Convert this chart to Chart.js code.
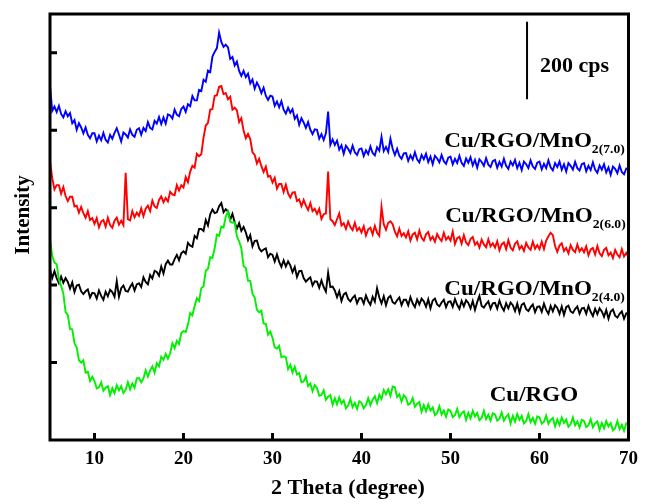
<!DOCTYPE html>
<html>
<head>
<meta charset="utf-8">
<script src="https://cdn.jsdelivr.net/npm/chart.js@4.4.1/dist/chart.umd.min.js"></script>
<style>
  html, body { margin: 0; padding: 0; background: #fff; }
  #wrap { width: 646px; height: 504px; }
</style>
</head>
<body>
<div id="wrap"><canvas id="xrd" width="646" height="504"></canvas></div>
<script>
// 2 theta grid: first angle and step of the scan (degree)
const thetaStart = 5;
const thetaStep = 0.25;

// intensities (cps, stacked), one value per step
const cuRgo = [
  520,475,458,454,414,398,378,330,323,287,286,250,239,206,200,206,174,176,152,163,
  152,133,136,149,127,135,139,116,134,121,141,128,139,121,130,149,131,146,135,159,
  160,149,159,180,164,179,190,174,198,190,215,207,222,210,224,250,237,256,248,276,
  281,279,298,328,322,346,366,359,392,397,437,442,472,470,495,530,527,551,549,577,
  590,564,561,562,526,513,495,449,444,411,411,378,368,336,330,334,301,300,272,280,
  264,239,236,243,214,216,214,183,194,174,189,169,173,149,151,164,139,146,126,142,
  134,114,116,128,104,112,116,91,108,92,110,94,102,82,89,106,85,96,80,100,
  96,82,90,108,90,104,113,95,117,106,129,118,131,114,138,136,111,118,99,116,
  109,91,95,108,86,94,98,73,90,74,92,76,84,64,70,87,66,76,60,79,
  75,59,64,80,59,69,74,52,70,56,75,61,70,51,57,75,54,65,50,69,
  66,50,55,71,50,60,66,43,62,47,67,52,62,43,49,67,46,57,42,61,
  58,42,47,63,42,52,57,35,53,39,58,44,53,34,41,58,38,48,33,52,
  49,33,38,54,33,43,48,26,44,30,49,35,44,25,31,49,28,39,24,43,
  40
];
const mno40 = [
  440,418,436,418,405,422,406,418,408,391,407,382,399,401,384,377,384,389,368,380,
  379,365,386,372,362,383,371,388,382,370,410,370,392,399,385,383,395,404,386,402,
  405,395,420,408,402,426,417,437,434,424,448,430,454,463,453,453,467,478,464,482,
  487,481,509,502,499,527,521,545,545,540,568,554,583,595,586,588,604,612,588,596,
  590,569,584,562,546,560,540,550,536,516,529,500,514,515,495,487,492,495,472,481,
  478,461,479,460,447,464,448,461,451,433,447,421,436,437,418,409,415,420,399,410,
  409,393,412,395,383,432,395,396,386,369,384,359,376,380,364,358,367,373,353,366,
  366,352,373,359,349,370,357,392,368,353,371,348,367,372,356,352,361,368,348,362,
  362,348,369,353,343,363,350,365,358,344,363,340,360,365,350,345,355,362,343,357,
  358,344,364,349,339,359,345,361,354,340,359,336,356,372,346,342,351,358,339,353,
  354,339,360,344,334,353,340,355,348,333,352,329,349,353,338,333,343,350,330,344,
  345,331,352,336,326,346,332,348,341,326,345,323,343,347,332,328,338,345,326,340,
  341,326,346,331,320,339,325,340,332,318,336,313,332,337,321,316,326,332,313,327,
  328
];
const mno60 = [
  720,676,647,658,658,636,653,630,617,628,628,603,605,587,602,586,574,591,568,573,
  558,573,549,564,568,551,574,555,548,566,574,556,566,555,690,570,567,591,575,587,
  579,598,578,597,605,591,618,603,599,620,629,614,625,616,641,634,632,658,644,658,
  652,679,666,693,708,703,739,733,738,781,812,819,853,854,889,890,912,914,893,896,
  880,886,853,858,851,821,831,799,779,790,777,743,736,714,726,707,692,706,680,682,
  665,677,649,661,661,640,659,637,626,639,640,617,621,604,620,605,594,612,591,597,
  584,597,571,583,585,693,570,565,555,570,585,554,560,545,564,550,542,561,541,548,
  536,552,528,544,548,531,553,535,527,602,557,543,561,565,557,538,526,546,527,534,
  523,539,515,531,535,518,541,522,515,531,537,517,525,512,532,521,514,535,517,525,
  515,538,506,521,525,507,529,510,503,519,524,504,511,497,517,505,498,518,500,508,
  497,513,490,505,510,493,516,497,490,507,513,493,501,488,509,497,491,512,494,503,
  493,512,493,515,526,535,529,501,486,502,508,488,496,482,503,491,485,505,487,495,
  485,500,477,492,496,479,501,482,475,491,496,477,484,470,491,479,472,493,474,483,
  472
];
const mno70 = [
  915,850,861,847,863,842,833,849,836,844,818,826,801,818,807,792,807,788,779,792,
  792,771,786,774,793,775,768,788,778,793,805,789,771,794,789,781,802,788,783,801,
  805,788,806,798,821,806,802,824,817,834,816,833,817,841,838,830,853,840,836,855,
  861,847,867,862,888,877,877,904,901,930,925,954,950,990,1002,1012,1052,1028,1015,1021,
  1014,984,989,967,977,953,940,953,937,946,921,931,907,923,912,896,910,889,878,889,
  887,863,874,859,875,853,843,858,845,854,829,838,814,831,820,806,821,801,790,802,
  801,778,790,775,792,848,762,776,762,773,750,761,739,760,752,741,760,743,736,751,
  753,733,748,738,758,741,735,756,747,783,746,757,744,778,752,736,752,734,726,740,
  741,721,735,724,743,725,717,736,725,739,718,732,712,734,727,717,736,720,713,729,
  732,712,726,715,734,716,708,727,716,730,709,723,703,725,718,708,728,711,705,720,
  723,703,718,706,726,708,700,719,709,723,702,716,697,719,712,702,722,706,700,716,
  719,699,713,702,722,704,696,715,705,719,698,712,693,715,708,698,718,702,696,712,
  715,694,708,697,717,698,690,709,698,712,691,704,685,706,700,689,709,692,686,701,
  698
];

// axis ticks
const xTickValues = [10, 20, 30, 40, 50, 60, 70];
const yTickValues = [200, 400, 600, 800, 1000];

// 200 cps scale bar (angle, from, to)
const barTheta = [58.6, 58.6];
const barCps = [880, 1080];

// curve labels: main text, subscript, anchor (angle, cps)
const labelMain = ["Cu/RGO/MnO", "Cu/RGO/MnO", "Cu/RGO/MnO", "Cu/RGO"];
const labelSub = ["2(7.0)", "2(6.0)", "2(4.0)", ""];
const labelTheta = [49.3, 49.4, 49.3, 54.4];
const labelCps = [757, 563, 374, 101];

const SERIF = '"Liberation Serif", "Times New Roman", serif';

function toPoints(vals) {
  return vals.map((v, i) => ({ x: thetaStart + i * thetaStep, y: v }));
}

function curve(vals, color) {
  return {
    data: toPoints(vals),
    borderColor: color,
    borderWidth: 1.9,
    pointRadius: 0,
    tension: 0,
    fill: false,
  };
}

function stretchText(ctx, txt, x, y, sx) {
  ctx.save();
  ctx.translate(x, y);
  ctx.scale(sx, 1);
  ctx.fillText(txt, 0, 0);
  ctx.restore();
  return ctx.measureText(txt).width * sx;
}

const decor = {
  id: "decor",
  afterDatasetsDraw(chart) {
    const { ctx, chartArea: a, scales } = chart;
    const x = scales.x;
    const y = scales.y;
    ctx.save();
    ctx.strokeStyle = "#000";
    ctx.fillStyle = "#000";

    // frame
    ctx.lineWidth = 3;
    ctx.strokeRect(a.left, a.top, a.right - a.left, a.bottom - a.top);

    // inner ticks
    ctx.beginPath();
    xTickValues.forEach((v) => {
      const px = x.getPixelForValue(v);
      ctx.moveTo(px, a.bottom);
      ctx.lineTo(px, a.bottom - 7);
    });
    yTickValues.forEach((v) => {
      const py = y.getPixelForValue(v);
      ctx.moveTo(a.left, py);
      ctx.lineTo(a.left + 7, py);
    });
    ctx.stroke();

    // curve labels
    ctx.textBaseline = "alphabetic";
    ctx.textAlign = "left";
    for (let i = 0; i < labelMain.length; i++) {
      const lx = x.getPixelForValue(labelTheta[i]);
      const ly = y.getPixelForValue(labelCps[i]);
      ctx.font = "bold 21px " + SERIF;
      const w = stretchText(ctx, labelMain[i], lx, ly, 1.1);
      if (labelSub[i]) {
        ctx.font = "bold 13px " + SERIF;
        stretchText(ctx, labelSub[i], lx + w, ly + 6, 1.05);
      }
    }

    // scale bar text
    ctx.font = "bold 20px " + SERIF;
    stretchText(ctx, "200 cps", x.getPixelForValue(60.06), y.getPixelForValue(950), 1.1);

    // axis titles
    ctx.font = "bold 21px " + SERIF;
    ctx.textAlign = "center";
    stretchText(ctx, "2 Theta (degree)", 348, 494, 1.05);

    ctx.save();
    ctx.translate(29, 215);
    ctx.rotate(-Math.PI / 2);
    ctx.fillText("Intensity", 0, 0);
    ctx.restore();

    ctx.restore();
  },
};

new Chart(document.getElementById("xrd").getContext("2d"), {
  type: "line",
  data: {
    datasets: [
      curve(cuRgo, "#00f000"),
      curve(mno40, "#000000"),
      curve(mno60, "#ff0000"),
      curve(mno70, "#0000ff"),
      {
        data: barTheta.map((t, i) => ({ x: t, y: barCps[i] })),
        borderColor: "#000",
        borderWidth: 2,
        pointRadius: 0,
      },
    ],
  },
  options: {
    responsive: false,
    animation: false,
    layout: { padding: { top: 14, right: 14, left: 0, bottom: 0 } },
    plugins: { legend: { display: false }, tooltip: { enabled: false } },
    scales: {
      x: {
        type: "linear",
        min: 5,
        max: 70,
        grid: { display: false, drawTicks: false },
        border: { display: false },
        afterBuildTicks: (s) => {
          s.ticks = xTickValues.map((v) => ({ value: v }));
        },
        afterFit: (s) => {
          s.height = 64;
        },
        ticks: {
          color: "#000",
          padding: 8,
          maxRotation: 0,
          font: { family: SERIF, size: 19, weight: "bold" },
        },
      },
      y: {
        type: "linear",
        min: 0,
        max: 1100,
        grid: { display: false, drawTicks: false },
        border: { display: false },
        ticks: { display: false },
        afterFit: (s) => {
          s.width = 50;
        },
      },
    },
  },
  plugins: [decor],
});
</script>
</body>
</html>
